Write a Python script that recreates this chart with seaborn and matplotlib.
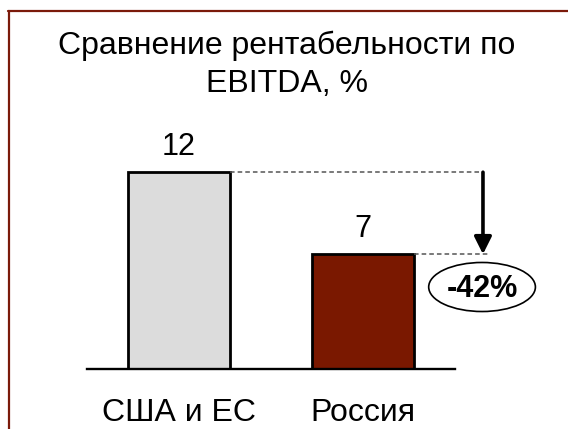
import matplotlib
matplotlib.use("Agg")
import matplotlib.pyplot as plt
import seaborn as sns
import pandas as pd
from matplotlib.patches import Ellipse
from matplotlib.lines import Line2D

# data
categories = ["США и ЕС", "Россия"]
values = [12, 7]
bar_colors = ["#DCDCDC", "#7A1800"]
change_label = "-42%"
title_lines = ["Сравнение рентабельности по", "EBITDA, %"]

sns.set_theme(style="white")
plt.rcParams["font.family"] = ["Liberation Sans", "DejaVu Sans"]
plt.rcParams["text.color"] = "black"

W, H = 568, 429
fig = plt.figure(figsize=(W / 100, H / 100), dpi=100)
ax = fig.add_axes([87 / W, (H - 369) / H, (455 - 87) / W, 246 / H])

df = pd.DataFrame({"region": categories, "ebitda": values})
bar_w = 0.555
sns.barplot(data=df, x="region", y="ebitda", hue="region", palette=bar_colors,
            saturation=1, width=bar_w, edgecolor="black", linewidth=2,
            legend=False, ax=ax)
ax.set_xlim(-0.5, 1.5)
ax.set_ylim(0, 15)
ax.set_xlabel("")
ax.set_ylabel("")
ax.set_xticks([])
ax.set_yticks([])
for s in ["top", "right", "left"]:
    ax.spines[s].set_visible(False)
ax.spines["bottom"].set_color("black")
ax.spines["bottom"].set_linewidth(1.7)

# value labels and category labels
for i, v in enumerate(values):
    ax.annotate(str(v), (i, v), xytext=(0, 17), textcoords="offset pixels",
                ha="center", va="baseline", fontsize=22, color="black")
    ax.text(i, -52 / 246, categories[i], transform=ax.get_xaxis_transform(),
            ha="center", va="baseline", fontsize=23, color="black")

# dashed guide lines and arrow
x_arrow = 1.652
ax.plot([bar_w / 2, x_arrow], [values[0], values[0]], ls=(0, (3, 2)),
        color="#555555", lw=1.1, clip_on=False)
ax.plot([1 + bar_w / 2, 1.69], [values[1], values[1]], ls=(0, (3, 2)),
        color="#555555", lw=1.1, clip_on=False)
ax.annotate("", xy=(x_arrow, values[1]), xytext=(x_arrow, values[0]),
            arrowprops=dict(arrowstyle="-|>", lw=2.6, color="black",
                            mutation_scale=26, shrinkA=0, shrinkB=0),
            annotation_clip=False)

ell = Ellipse((1.647, 5.0), 0.58, 2.99, facecolor="white", edgecolor="black",
              lw=1.2, clip_on=False)
ax.add_patch(ell)
ax.text(1.647, 4.39, change_label, ha="center", va="baseline", fontsize=22,
        fontweight="bold", color="black", clip_on=False)

# title
fig.text(287 / W, 1 - 54 / H, title_lines[0], ha="center", va="baseline",
         fontsize=23, color="black")
fig.text(287 / W, 1 - 92 / H, title_lines[1], ha="center", va="baseline",
         fontsize=23, color="black")

# frame
frame_color = "#7B1A0A"
fig.add_artist(Line2D([8.5 / W, 8.5 / W], [0, 1 - 11 / H], color=frame_color, lw=1.6,
                      transform=fig.transFigure))
fig.add_artist(Line2D([8 / W, 1], [1 - 11 / H, 1 - 11 / H], color=frame_color, lw=1.6,
                      transform=fig.transFigure))

fig.savefig("out.png", dpi=100)
